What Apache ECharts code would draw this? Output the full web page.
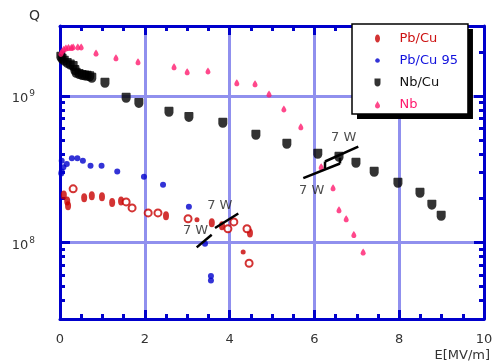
<!DOCTYPE html>
<html>
<head>
<meta charset="utf-8">
<script src="https://cdn.jsdelivr.net/npm/echarts@6.0.0/dist/echarts.min.js"></script>
<style>
html, body { margin: 0; padding: 0; background: #fff; }
#main { width: 496px; height: 363px; }
</style>
</head>
<body>
<div id="main"></div>
<script>
// axis ranges and tick positions
var xMin = 0, xMax = 10, xStep = 2;
var yMin = 3e7, yMax = 3e9;
var yMajorTicks = [1e8, 1e9];
var yMinorTicks = [4e7, 5e7, 6e7, 7e7, 8e7, 9e7, 2e8, 3e8, 4e8, 5e8, 6e8, 7e8, 8e8, 9e8, 2e9];

// Pb/Cu (red) - filled ellipses, open rings, small dots
var pbCuFilled = [[0.09, 2.11e8], [0.17, 1.92e8], [0.19, 1.78e8], [0.57, 2.02e8], [0.75, 2.08e8],
  [0.99, 2.05e8], [1.23, 1.87e8], [1.44, 1.92e8], [2.5, 1.52e8], [3.58, 1.36e8], [3.82, 1.3e8], [4.48, 1.16e8]];
var pbCuRing = [[0.31, 2.32e8], [1.56, 1.89e8], [1.7, 1.72e8], [2.08, 1.59e8], [2.31, 1.59e8],
  [3.02, 1.45e8], [3.96, 1.24e8], [4.1, 1.38e8], [4.41, 1.24e8], [4.46, 7.2e7]];
var pbCuSmall = [[3.23, 1.43e8], [4.32, 8.6e7]];

// Pb/Cu 95 (blue)
var pbCu95 = [[0.03, 2.95e8], [0.04, 3.05e8], [0.08, 3.26e8], [0.04, 3.61e8], [0.16, 3.43e8], [0.28, 3.76e8],
  [0.41, 3.76e8], [0.54, 3.61e8], [0.72, 3.33e8], [0.98, 3.33e8], [1.35, 3.05e8], [1.98, 2.81e8],
  [2.43, 2.47e8], [3.04, 1.75e8], [3.42, 9.8e7], [3.56, 5.5e7], [3.56, 5.9e7]];

// Nb/Cu (black)
var nbCu = [[0.02, 1.85e9], [0.05, 1.79e9], [0.1, 1.74e9], [0.17, 1.68e9], [0.24, 1.64e9], [0.31, 1.6e9],
  [0.35, 1.5e9], [0.38, 1.44e9], [0.45, 1.41e9], [0.52, 1.39e9], [0.58, 1.38e9], [0.64, 1.37e9],
  [0.7, 1.36e9], [0.75, 1.33e9], [1.06, 1.23e9], [1.56, 9.7e8], [1.86, 8.96e8], [2.57, 7.78e8],
  [3.04, 7.19e8], [3.84, 6.55e8], [4.62, 5.42e8], [5.35, 4.71e8], [6.08, 4.03e8], [6.58, 3.84e8],
  [6.98, 3.49e8], [7.41, 3.03e8], [7.97, 2.55e8], [8.49, 2.18e8], [8.77, 1.81e8], [8.99, 1.52e8]];

// Nb (pink)
var nb = [[0.02, 1.95e9], [0.05, 2.02e9], [0.09, 2.08e9], [0.14, 2.12e9], [0.2, 2.14e9], [0.27, 2.14e9],
  [0.31, 2.16e9], [0.42, 2.16e9], [0.5, 2.16e9], [0.85, 1.96e9], [1.32, 1.82e9], [1.84, 1.71e9],
  [2.69, 1.58e9], [3.0, 1.46e9], [3.49, 1.48e9], [4.17, 1.23e9], [4.6, 1.21e9], [4.93, 1.03e9],
  [5.28, 8.15e8], [5.68, 6.15e8], [6.16, 3.28e8], [6.44, 2.36e8], [6.58, 1.67e8], [6.75, 1.45e8],
  [6.93, 1.13e8], [7.15, 8.6e7]];

// "7 W" markers: line segments and their texts
var wireSegments = [
  [[3.224, 9.25e7], [3.578, 1.129e8]],
  [[3.656, 1.254e8], [4.205, 1.576e8]],
  [[5.738, 2.748e8], [6.604, 3.456e8]],
  [[6.604, 3.456e8], [6.604, 3.779e8]],
  [[6.25, 3.18e8], [6.25, 3.566e8]],
  [[6.25, 3.566e8], [7.035, 4.512e8]]
];
var wireLabels = [[3.77, 1.793e8, '7 W'], [3.196, 1.202e8, '7 W'], [6.691, 5.157e8, '7 W'], [5.936, 2.251e8, '7 W']];

var legendNames = ['Pb/Cu', 'Pb/Cu 95', 'Nb/Cu', 'Nb'];
var colors = ['#c80000', '#0000cc', '#000000', '#ff1a6e'];
var textColors = ['#cc1111', '#1111dd', '#111111', '#ff1a6e'];

var FONT = 'DejaVu Sans';
var axisBlue = '#0000cc';
var gridBlue = '#9090ee';

var shieldPath = 'path://M0,1C0,0 1,0 2,0L8,0C9,0 10,0 10,1L10,6C10,9 8,11 5,11C2,11 0,9 0,6Z';
var dropPath = 'path://M5,0C7,3 9,6 9,8C9,10.5 7,12 5,12C3,12 1,10.5 1,8C1,6 3,3 5,0Z';
var legendIcons = [
  'path://M0,0M13,13M6.5,2.5C8,2.5 9,4.3 9,6.5C9,8.7 8,10.5 6.5,10.5C5,10.5 4,8.7 4,6.5C4,4.3 5,2.5 6.5,2.5Z',
  'path://M0,0M13,13M6.5,4.2C7.8,4.2 8.8,5.2 8.8,6.5C8.8,7.8 7.8,8.8 6.5,8.8C5.2,8.8 4.2,7.8 4.2,6.5C4.2,5.2 5.2,4.2 6.5,4.2Z',
  'path://M0,0M13,13M3.5,2.5L9.5,2.5L9.5,7C9.5,9 8.3,10.5 6.5,10.5C4.7,10.5 3.5,9 3.5,7Z',
  'path://M0,0M13,13M6.5,3C7.5,5 9,6.5 9,8C9,9.5 7.9,10.5 6.5,10.5C5.1,10.5 4,9.5 4,8C4,6.5 5.5,5 6.5,3Z'
];

function log10(v) { return Math.log(v) / Math.LN10; }

var myChart = echarts.init(document.getElementById('main'));

// decoration axes drawn in log10 space (same mapping as the log axis)
function tickAxis(pos, ticks, len, withLabel) {
  return {
    type: 'value', position: pos,
    min: log10(yMin), max: log10(yMax),
    axisLine: { show: false },
    splitLine: { show: false },
    axisTick: {
      show: true, inside: true, length: len,
      customValues: ticks.map(log10),
      lineStyle: { color: axisBlue, width: 3 }
    },
    axisLabel: withLabel ? {
      show: true, margin: 25,
      customValues: ticks.map(log10),
      formatter: function (v) { return '{b|10}{s|' + Math.round(v) + '}'; },
      rich: {
        b: { fontSize: 13, color: '#333', fontFamily: FONT, padding: [6, 0, 0, 0] },
        s: { fontSize: 9, color: '#333', fontFamily: FONT, padding: [0, 0, 4, 1] }
      }
    } : { show: false }
  };
}

var series = [
  {
    name: 'Pb/Cu', type: 'scatter', data: pbCuFilled,
    symbol: 'circle', symbolSize: [6, 9], itemStyle: { color: colors[0] }
  },
  {
    name: 'Pb/Cu', type: 'scatter', data: pbCuRing,
    symbol: 'emptyCircle', symbolSize: 7, itemStyle: { color: colors[0], borderWidth: 2.6 }
  },
  {
    name: 'Pb/Cu', type: 'scatter', data: pbCuSmall,
    symbol: 'circle', symbolSize: 5, itemStyle: { color: colors[0] }
  },
  {
    name: 'Pb/Cu 95', type: 'scatter', data: pbCu95,
    symbol: 'circle', symbolSize: 6, itemStyle: { color: colors[1] }
  },
  {
    name: 'Nb/Cu', type: 'scatter', data: nbCu,
    symbol: shieldPath, symbolSize: [9, 10], itemStyle: { color: colors[2] }
  },
  {
    name: 'Nb', type: 'scatter', data: nb,
    symbol: dropPath, symbolSize: [5, 7], itemStyle: { color: colors[3] }
  }
];

wireSegments.forEach(function (seg) {
  series.push({
    type: 'line', data: seg, showSymbol: false, symbol: 'none', silent: true,
    lineStyle: { color: '#000', width: 2.5 }, z: 5
  });
});

series.push({
  type: 'scatter', data: wireLabels, symbolSize: 1, silent: true, z: 6,
  itemStyle: { color: 'transparent' },
  label: {
    show: true, position: 'inside',
    formatter: function (p) { return p.value[2]; },
    fontSize: 13, color: '#222', fontFamily: FONT
  }
});

// legend box, plus a black copy behind it as the drop shadow
var legendBase = {
  orient: 'vertical',
  padding: [8, 10, 3, 19], itemGap: 9, itemWidth: 34, itemHeight: 13,
  borderRadius: 0, selectedMode: false,
  textStyle: { fontSize: 13, fontFamily: FONT }
};
var legendShadow = Object.assign({}, legendBase, {
  left: 357, top: 29, z: 3,
  backgroundColor: '#000', borderWidth: 0,
  itemStyle: { opacity: 0 },
  data: legendNames.map(function (n) { return { name: n, textStyle: { color: 'transparent' } }; })
});
var legendMain = Object.assign({}, legendBase, {
  left: 352, top: 24, z: 4,
  backgroundColor: '#fff', borderColor: '#000', borderWidth: 1.5,
  data: legendNames.map(function (n, i) {
    return { name: n, icon: legendIcons[i], textStyle: { color: textColors[i] } };
  })
});

myChart.setOption({
  animation: false,
  backgroundColor: '#fff',
  textStyle: { fontFamily: FONT },
  grid: { left: 60, right: 12, top: 26, bottom: 44, containLabel: false, outerBoundsMode: 'none' },
  legend: [legendShadow, legendMain],
  graphic: [
    { type: 'text', left: 29, top: 9, style: { text: 'Q', font: '14px "DejaVu Sans"', fill: '#333' } },
    { type: 'text', right: 6, top: 349, style: { text: 'E[MV/m]', font: '13px "DejaVu Sans"', fill: '#333' } }
  ],
  xAxis: [
    {
      type: 'value', position: 'bottom', min: xMin, max: xMax, interval: xStep,
      axisLine: { show: true, onZero: false, lineStyle: { color: axisBlue, width: 3 } },
      axisTick: { show: true, inside: true, length: 9, lineStyle: { color: axisBlue, width: 3 } },
      minorTick: { show: true, splitNumber: 4, length: 5, lineStyle: { color: axisBlue, width: 3 } },
      splitLine: { show: true, lineStyle: { color: gridBlue, width: 3 } },
      axisLabel: { margin: 14, fontSize: 13, color: '#333', fontFamily: FONT }
    },
    {
      type: 'value', position: 'top', min: xMin, max: xMax, interval: xStep,
      axisLine: { show: true, onZero: false, lineStyle: { color: axisBlue, width: 3 } },
      axisTick: { show: true, inside: true, length: 9, lineStyle: { color: axisBlue, width: 3 } },
      minorTick: { show: true, splitNumber: 4, length: 5, lineStyle: { color: axisBlue, width: 3 } },
      splitLine: { show: false },
      axisLabel: { show: false }
    }
  ],
  yAxis: [
    {
      type: 'log', position: 'left', min: yMin, max: yMax, logBase: 10,
      axisLine: { show: true, onZero: false, lineStyle: { color: axisBlue, width: 3 } },
      axisTick: { show: false },
      axisLabel: { show: false },
      splitLine: { show: true, lineStyle: { color: gridBlue, width: 3 } }
    },
    tickAxis('left', yMajorTicks, 10, true),
    tickAxis('left', yMinorTicks, 5, false),
    (function () {
      var a = tickAxis('right', yMajorTicks, 10, false);
      a.axisLine = { show: true, onZero: false, lineStyle: { color: axisBlue, width: 3 } };
      return a;
    })(),
    tickAxis('right', yMinorTicks, 5, false)
  ],
  series: series
});
</script>
</body>
</html>
